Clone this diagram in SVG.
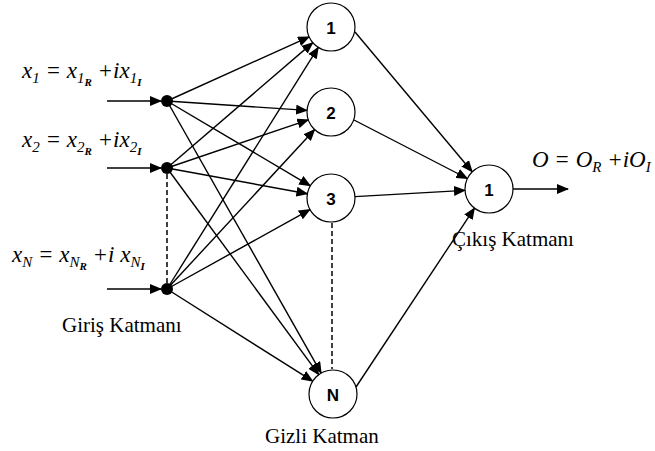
<svg xmlns="http://www.w3.org/2000/svg" width="655" height="451" viewBox="0 0 655 451">
<defs>
<style>
.e{stroke:#000;stroke-width:1.4;fill:none;marker-end:url(#ah)}
.d{stroke:#000;stroke-width:1.5;stroke-dasharray:5 3;fill:none}
.n{fill:#fff;stroke:#000;stroke-width:1.2}
.nl{font-family:"Liberation Sans",Arial,sans-serif;font-size:17px;font-weight:bold;text-anchor:middle}
.f{font-family:"Liberation Serif","Times New Roman",serif;font-size:23px;font-style:italic}
.s{font-size:15px}
.ss{font-size:11px;font-weight:bold}
.lb{font-family:"Liberation Serif","Times New Roman",serif;font-size:21px}
</style>
<marker id="ah" markerUnits="userSpaceOnUse" markerWidth="12" markerHeight="10" refX="11" refY="5" orient="auto">
<path d="M0,0 L12,5 L0,10 Z" fill="#000"/>
</marker>
</defs>
<rect width="655" height="451" fill="#fff"/>
<g id="connectors">
<line class="e" x1="107" y1="101" x2="161" y2="101"/>
<line class="e" x1="107" y1="168" x2="161" y2="168"/>
<line class="e" x1="107" y1="289" x2="161" y2="289"/>
<line class="e" x1="167" y1="101" x2="309.1" y2="36.9"/>
<line class="e" x1="167" y1="101" x2="307.1" y2="110.4"/>
<line class="e" x1="167" y1="101" x2="310.3" y2="185.8"/>
<line class="e" x1="167" y1="101" x2="321.2" y2="373.1"/>
<line class="e" x1="167" y1="168" x2="312.8" y2="42.6"/>
<line class="e" x1="167" y1="168" x2="308.3" y2="119.8"/>
<line class="e" x1="167" y1="168" x2="307.4" y2="193.7"/>
<line class="e" x1="167" y1="168" x2="318.8" y2="374.7"/>
<line class="e" x1="167" y1="289" x2="318.3" y2="47.3"/>
<line class="e" x1="167" y1="289" x2="314.7" y2="129.6"/>
<line class="e" x1="167" y1="289" x2="310.0" y2="209.6"/>
<line class="e" x1="167" y1="289" x2="312.7" y2="381.2"/>
<line class="e" x1="355" y1="32" x2="472.2" y2="171.8"/>
<line class="e" x1="354" y1="120" x2="467.4" y2="178.5"/>
<line class="e" x1="355" y1="196.6" x2="465.0" y2="190.4"/>
<line class="e" x1="356" y1="387" x2="474.5" y2="208.1"/>
<line class="e" x1="513" y1="189" x2="568" y2="189"/>
<line class="d" x1="167" y1="174" x2="167" y2="283"/>
<line class="d" x1="332" y1="223" x2="332" y2="369"/>
</g>
<g id="in1"><circle cx="167" cy="101" r="6" fill="#000"/><text class="f" x="22" y="78">x<tspan class="s" dy="5">1</tspan><tspan dy="-5"> = x</tspan><tspan class="s" dy="5">1</tspan><tspan class="ss" dy="3">R</tspan><tspan dy="-8"> +ix</tspan><tspan class="s" dy="5">1</tspan><tspan class="ss" dy="3">I</tspan></text></g>
<g id="in2"><circle cx="167" cy="168" r="6" fill="#000"/><text class="f" x="22" y="147">x<tspan class="s" dy="5">2</tspan><tspan dy="-5"> = x</tspan><tspan class="s" dy="5">2</tspan><tspan class="ss" dy="3">R</tspan><tspan dy="-8"> +ix</tspan><tspan class="s" dy="5">2</tspan><tspan class="ss" dy="3">I</tspan></text></g>
<g id="inN"><circle cx="167" cy="289" r="6" fill="#000"/><text class="f" x="12" y="262">x<tspan class="s" dy="5">N</tspan><tspan dy="-5"> = x</tspan><tspan class="s" dy="5">N</tspan><tspan class="ss" dy="3">R</tspan><tspan dy="-8"> +i x</tspan><tspan class="s" dy="5">N</tspan><tspan class="ss" dy="3">I</tspan></text></g>
<g id="h1"><circle class="n" cx="331" cy="27" r="24"/><text class="nl" x="331" y="34">1</text></g>
<g id="h2"><circle class="n" cx="331" cy="112" r="24"/><text class="nl" x="331" y="119">2</text></g>
<g id="h3"><circle class="n" cx="331" cy="198" r="24"/><text class="nl" x="331" y="205">3</text></g>
<g id="hN"><circle class="n" cx="333" cy="394" r="24"/><text class="nl" x="333" y="401">N</text></g>
<g id="out"><circle class="n" cx="489" cy="189" r="24"/><text class="nl" x="489" y="196">1</text><text class="f" x="532" y="167">O = O<tspan class="s" dy="5">R</tspan><tspan dy="-5"> +iO</tspan><tspan class="s" dy="5">I</tspan></text></g>
<g id="labels">
<text class="lb" x="62" y="332">Giriş Katmanı</text>
<text class="lb" x="265" y="443">Gizli Katman</text>
<text class="lb" x="452" y="246">Çıkış Katmanı</text>
</g>
</svg>
